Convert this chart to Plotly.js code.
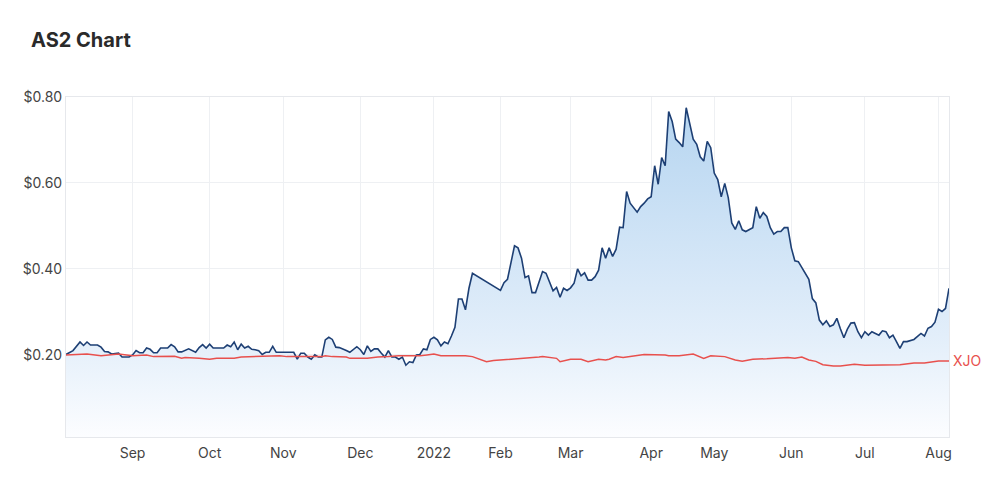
<!DOCTYPE html>
<html>
<head>
<meta charset="utf-8">
<script src="https://cdn.plot.ly/plotly-3.0.1.min.js"></script>
<style>
  html, body { margin: 0; padding: 0; background: #ffffff; }
  #chart { width: 1000px; height: 489px; }
</style>
</head>
<body>
<div id="chart"></div>
<script>
// Trading sessions counted from 5 Aug 2021 (session 0) to 4 Aug 2022 (session 252)
const as2Session = [0,2,4,5,6,7,9,10,11,12,13,15,16,18,19,20,21,22,23,24,25,26,27,29,30,31,32,33,35,36,37,38,39,40,41,42,44,45,46,47,48,49,50,51,52,53,54,55,56,57,58,59,60,65,66,67,68,69,70,71,72,73,74,75,76,77,78,79,80,81,83,84,85,86,87,88,89,90,91,92,93,94,95,96,97,98,99,100,101,102,103,104,105,106,107,108,109,110,111,112,113,114,115,116,124,125,126,128,129,130,131,132,133,134,136,137,138,139,140,141,142,143,144,145,146,147,148,149,150,151,152,153,154,155,156,157,158,159,160,161,163,164,165,166,167,168,169,170,171,172,173,174,175,176,177,178,179,180,181,182,183,184,185,186,187,188,189,190,191,192,193,194,195,196,197,198,199,200,201,202,203,204,205,206,207,208,209,211,212,213,214,215,216,217,218,219,220,221,222,223,224,225,226,227,228,229,230,231,232,233,234,235,236,237,238,239,240,242,243,244,245,246,247,248,249,250,251,252];
const as2Price = [0.201,0.210,0.230,0.222,0.230,0.223,0.223,0.218,0.208,0.207,0.202,0.204,0.195,0.195,0.200,0.210,0.205,0.205,0.216,0.213,0.205,0.205,0.216,0.216,0.224,0.219,0.207,0.207,0.214,0.209,0.206,0.217,0.224,0.216,0.225,0.216,0.216,0.216,0.223,0.219,0.230,0.212,0.225,0.216,0.220,0.213,0.212,0.210,0.201,0.206,0.206,0.220,0.206,0.206,0.190,0.204,0.204,0.195,0.190,0.200,0.195,0.195,0.235,0.241,0.236,0.218,0.217,0.214,0.210,0.206,0.219,0.212,0.201,0.221,0.208,0.214,0.214,0.204,0.195,0.210,0.195,0.195,0.190,0.195,0.176,0.184,0.182,0.200,0.201,0.214,0.212,0.236,0.241,0.235,0.221,0.230,0.226,0.244,0.264,0.330,0.330,0.305,0.355,0.390,0.350,0.368,0.376,0.454,0.449,0.425,0.380,0.384,0.345,0.345,0.394,0.390,0.371,0.349,0.357,0.334,0.355,0.350,0.356,0.367,0.400,0.384,0.391,0.374,0.374,0.382,0.397,0.449,0.425,0.449,0.429,0.446,0.497,0.496,0.580,0.553,0.532,0.545,0.553,0.563,0.568,0.640,0.597,0.659,0.640,0.766,0.743,0.702,0.694,0.684,0.775,0.735,0.702,0.690,0.661,0.651,0.697,0.682,0.623,0.608,0.568,0.599,0.566,0.507,0.492,0.512,0.491,0.487,0.491,0.496,0.545,0.518,0.531,0.522,0.496,0.481,0.487,0.487,0.496,0.496,0.449,0.419,0.417,0.388,0.376,0.331,0.321,0.281,0.270,0.279,0.266,0.270,0.285,0.261,0.240,0.260,0.274,0.275,0.254,0.240,0.254,0.246,0.254,0.250,0.246,0.256,0.254,0.240,0.246,0.231,0.215,0.231,0.231,0.236,0.244,0.250,0.244,0.262,0.266,0.276,0.306,0.301,0.308,0.355];

const xjoSession = [0,4,6,10,13,15,19,23,25,31,33,34,38,41,43,48,50,54,61,63,67,73,74,76,80,81,86,89,92,95,98,101,103,105,107,110,114,116,118,120,122,124,127,130,135,136,140,141,144,147,149,152,154,155,157,159,162,165,171,172,175,179,182,184,188,191,193,196,200,206,208,210,212,214,216,219,221,225,228,233,238,242,245,249,252];
const xjoValue = [0.200,0.202,0.202,0.198,0.200,0.202,0.198,0.200,0.196,0.197,0.192,0.194,0.192,0.190,0.192,0.192,0.195,0.196,0.198,0.196,0.196,0.196,0.198,0.196,0.195,0.192,0.192,0.195,0.196,0.198,0.198,0.198,0.200,0.202,0.198,0.198,0.198,0.196,0.190,0.184,0.187,0.188,0.190,0.192,0.195,0.196,0.192,0.184,0.190,0.190,0.184,0.190,0.188,0.190,0.196,0.194,0.198,0.201,0.200,0.198,0.198,0.202,0.192,0.198,0.196,0.188,0.185,0.190,0.191,0.194,0.192,0.195,0.188,0.185,0.177,0.174,0.174,0.178,0.176,0.177,0.177,0.181,0.181,0.186,0.186];

const monthTickSession = [19,41,62,84,105,124,144,167,185,207,228,249];
const monthTickLabel = ['Sep','Oct','Nov','Dec','2022','Feb','Mar','Apr','May','Jun','Jul','Aug'];
const priceTicks = [0.20,0.40,0.60,0.80];
const priceTickLabel = ['$0.20','$0.40','$0.60','$0.80'];

const fontFamily = 'Inter, "Noto Sans", "DejaVu Sans", sans-serif';

const traces = [
  {
    x: as2Session, y: as2Price, type: 'scatter', mode: 'lines', name: 'AS2',
    line: {color: '#1d3f74', width: 1.6},
    fill: 'tozeroy',
    fillgradient: {type: 'vertical', start: 0.009, stop: 0.8,
      colorscale: [[0, 'rgb(252,253,255)'], [0.3, 'rgb(226,238,250)'], [1, 'rgb(180,212,240)']]},
    hoverinfo: 'skip'
  },
  {
    x: xjoSession, y: xjoValue, type: 'scatter', mode: 'lines', name: 'XJO',
    line: {color: '#e8504d', width: 1.5},
    hoverinfo: 'skip'
  }
];

const layout = {
  width: 1000, height: 489,
  margin: {l: 66, r: 51, t: 97, b: 52},
  paper_bgcolor: '#ffffff', plot_bgcolor: '#ffffff',
  showlegend: false,
  font: {family: fontFamily, color: '#444444', size: 14},
  title: {
    text: '<b>AS2 Chart</b>',
    xref: 'container', yref: 'container',
    x: 0.031, xanchor: 'left', y: 0.918, yanchor: 'middle',
    font: {family: fontFamily, size: 20, color: '#2a2a2a'}
  },
  xaxis: {
    range: [0, 252], fixedrange: true,
    tickmode: 'array', tickvals: monthTickSession, ticktext: monthTickLabel,
    showgrid: true, gridcolor: '#eef0f3', gridwidth: 1,
    showline: true, linecolor: '#e6e8ec', linewidth: 1, mirror: true,
    ticks: '', zeroline: false, ticklabelstandoff: 3,
    tickfont: {family: fontFamily, size: 14, color: '#444444'}
  },
  yaxis: {
    range: [0.009, 0.80], fixedrange: true,
    tickmode: 'array', tickvals: priceTicks, ticktext: priceTickLabel,
    showgrid: true, gridcolor: '#eef0f3', gridwidth: 1,
    showline: true, linecolor: '#e6e8ec', linewidth: 1, mirror: true,
    ticks: '', zeroline: false,
    tickfont: {family: fontFamily, size: 14, color: '#444444'}
  },
  annotations: [{
    x: xjoSession[xjoSession.length - 1], y: xjoValue[xjoValue.length - 1],
    xref: 'x', yref: 'y', text: 'XJO', showarrow: false,
    xanchor: 'left', yanchor: 'middle', xshift: 2,
    font: {family: fontFamily, size: 14, color: '#e8504d'}
  }]
};

Plotly.newPlot('chart', traces, layout, {staticPlot: true, displayModeBar: false});
</script>
</body>
</html>
